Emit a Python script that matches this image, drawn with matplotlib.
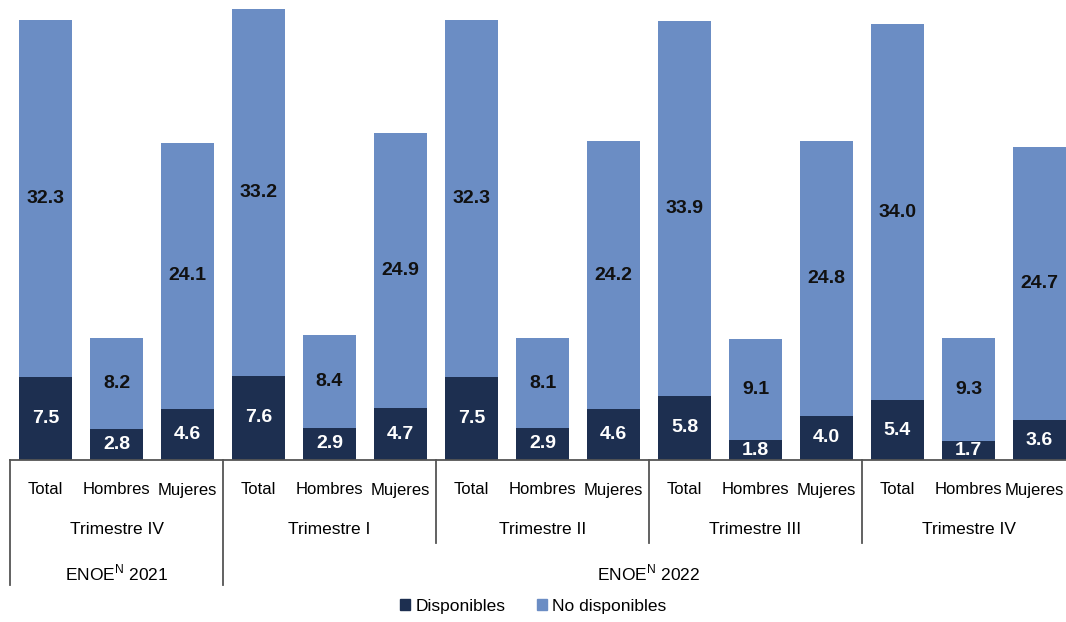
import numpy as np
import matplotlib
matplotlib.use("Agg")
import matplotlib.pyplot as plt
from matplotlib.patches import Patch

plt.rcParams['font.family'] = ['Liberation Sans Narrow', 'Liberation Sans', 'DejaVu Sans']
plt.rcParams['mathtext.fontset'] = 'custom'
plt.rcParams['mathtext.rm'] = 'Liberation Sans'

# ---- data ----
categories = ["Total", "Hombres", "Mujeres"] * 5
quarters = ["Trimestre IV", "Trimestre I", "Trimestre II", "Trimestre III", "Trimestre IV"]
years = ["ENOE$^{\\mathrm{N}}$ 2021", "ENOE$^{\\mathrm{N}}$ 2022"]
disponibles = [7.5, 2.8, 4.6, 7.6, 2.9, 4.7, 7.5, 2.9, 4.6, 5.8, 1.8, 4.0, 5.4, 1.7, 3.6]
no_disponibles = [32.3, 8.2, 24.1, 33.2, 8.4, 24.9, 32.3, 8.1, 24.2, 33.9, 9.1, 24.8, 34.0, 9.3, 24.7]

DARK = "#1d2f50"
LIGHT = "#6b8dc4"
W, H = 1066, 622

fig = plt.figure(figsize=(W / 100, H / 100), dpi=100)
# axis line at y=460px, slots 71px wide starting at x=10px
ax = fig.add_axes([10 / W, (H - 460) / H, 1065 / W, 460 / H])

x = np.arange(len(categories))
d = np.array(disponibles)
nd = np.array(no_disponibles)
ax.bar(x, d, width=0.76, color=DARK)
ax.bar(x, nd, width=0.76, bottom=d, color=LIGHT)

for i in x:
    ax.text(i, d[i] / 2, "%.1f" % d[i], ha="center", va="center",
            color="white", fontsize=14, fontweight="bold")
    ax.text(i, d[i] + nd[i] / 2, "%.1f" % nd[i], ha="center", va="center",
            color="#111111", fontsize=14, fontweight="bold")

ax.set_xlim(-0.5, len(categories) - 0.5)
ax.set_ylim(0, 460 / 11.06)
for s in ["top", "right", "left"]:
    ax.spines[s].set_visible(False)
ax.spines["bottom"].set_color("#555555")
ax.spines["bottom"].set_linewidth(1.3)
ax.set_xticks([])
ax.set_yticks([])

def yfrac(py):
    return (460 - py) / 460

tr = ax.get_xaxis_transform()
# category labels (last one pulled inside the right edge, as in the original)
for i, c in enumerate(categories):
    if i == len(categories) - 1:
        fig.text(1064 / W, (H - 490) / H, c, ha="right", va="center", fontsize=12)
    else:
        ax.text(i, yfrac(490), c, transform=tr, ha="center", va="center", fontsize=12, clip_on=False)
# quarter labels
for g, q in enumerate(quarters):
    ax.text(g * 3 + 1, yfrac(530), q, transform=tr, ha="center", va="center", fontsize=12.5, clip_on=False)
# year labels
ax.text(1, yfrac(573), years[0], transform=tr, ha="center", va="center", fontsize=12.5, clip_on=False)
ax.text(8.5, yfrac(573), years[1], transform=tr, ha="center", va="center", fontsize=12.5, clip_on=False)

# separators
for xs, bottom in [(-0.5, 585), (2.5, 585), (5.5, 543), (8.5, 543), (11.5, 543)]:
    ax.plot([xs, xs], [0, yfrac(bottom)], transform=tr, color="#555555", lw=1.3, clip_on=False)

handles = [Patch(color=DARK, label="Disponibles"), Patch(color=LIGHT, label="No disponibles")]
fig.legend(handles=handles, loc="center", bbox_to_anchor=(0.5, (H - 606) / H), ncol=2,
           frameon=False, fontsize=12.5, handlelength=0.6, handleheight=0.6,
           handletextpad=0.3, columnspacing=1.8)

fig.savefig("out.png", dpi=100)
